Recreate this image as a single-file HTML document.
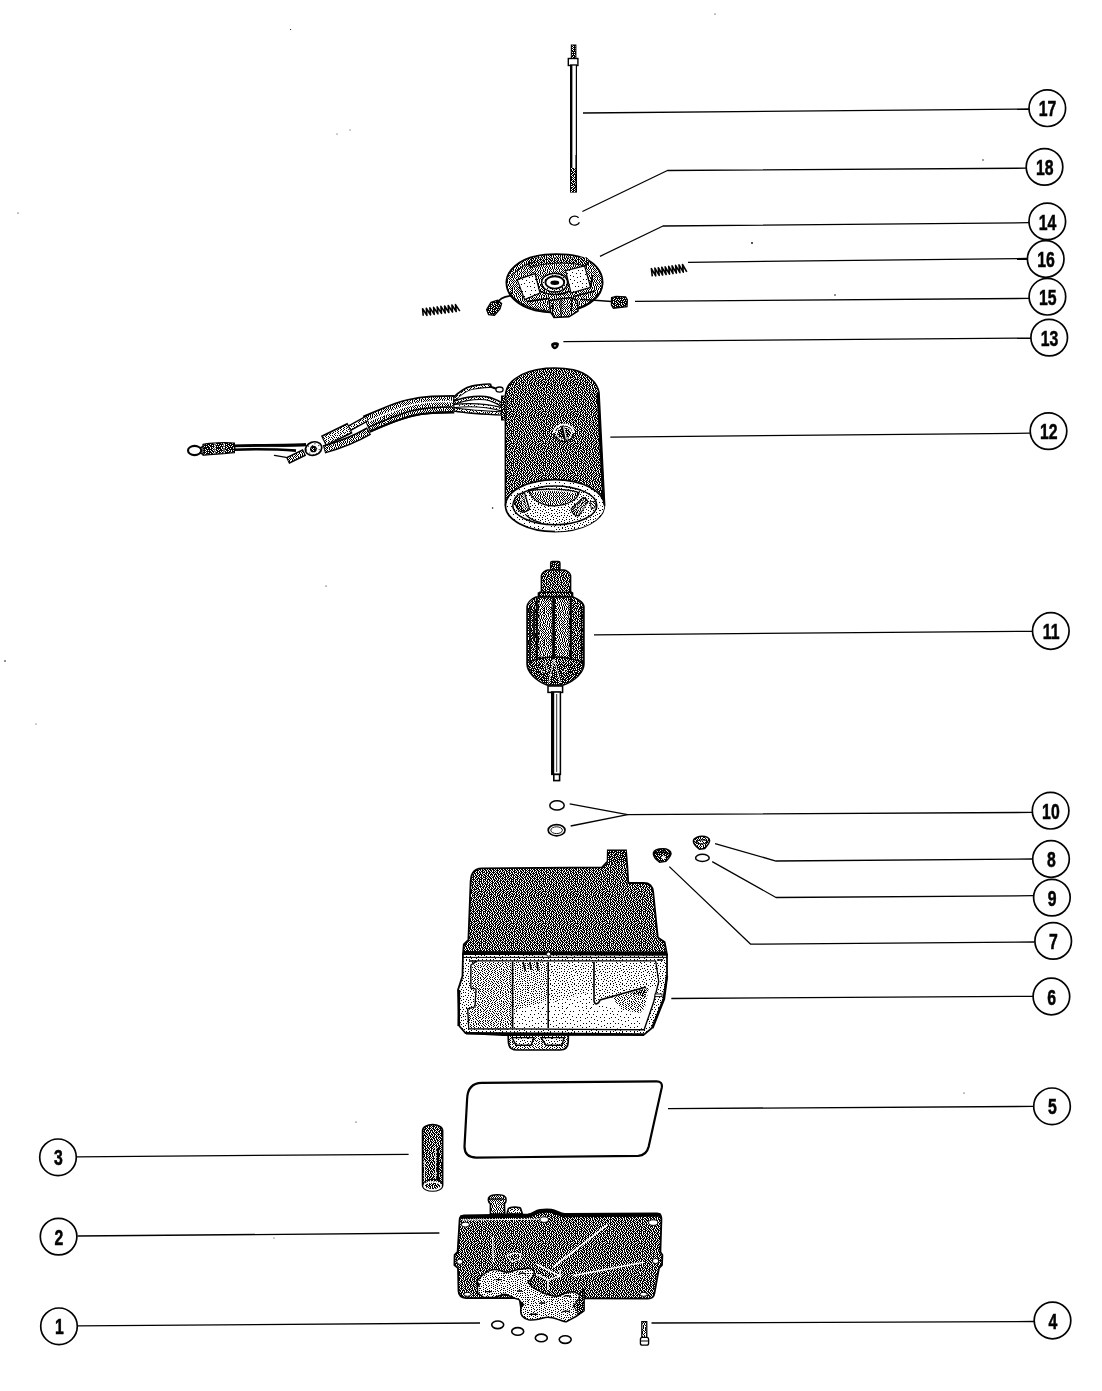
<!DOCTYPE html><html><head><meta charset="utf-8"><title>Parts diagram</title><style>html,body{margin:0;padding:0;background:#fff;overflow:hidden}svg{display:block}</style></head><body><svg width="1102" height="1391" viewBox="0 0 1102 1391" shape-rendering="geometricPrecision"><defs><pattern id="d70" width="32" height="32" patternUnits="userSpaceOnUse"><rect width="32" height="32" fill="#000"/><path fill="#fff" d="M2 0h1v1h-1zM6 0h1v1h-1zM9 0h1v1h-1zM15 0h1v1h-1zM18 0h1v1h-1zM21 0h1v1h-1zM23 0h1v1h-1zM29 0h1v1h-1zM4 1h1v1h-1zM11 1h1v1h-1zM13 1h1v1h-1zM20 1h1v1h-1zM25 1h1v1h-1zM27 1h1v1h-1zM30 1h1v1h-1zM1 2h1v1h-1zM5 2h1v1h-1zM7 2h1v1h-1zM9 2h1v1h-1zM14 2h1v1h-1zM16 2h1v1h-1zM18 2h1v1h-1zM21 2h1v1h-1zM23 2h1v1h-1zM26 2h1v1h-1zM2 3h1v1h-1zM4 3h1v1h-1zM7 3h1v1h-1zM11 3h1v1h-1zM13 3h1v1h-1zM19 3h1v1h-1zM24 3h1v1h-1zM28 3h1v1h-1zM30 3h1v1h-1zM0 4h1v1h-1zM6 4h1v1h-1zM9 4h1v1h-1zM14 4h1v1h-1zM16 4h1v1h-1zM20 4h1v1h-1zM22 4h1v1h-1zM26 4h1v1h-1zM29 4h1v1h-1zM1 5h1v1h-1zM3 5h1v1h-1zM5 5h1v1h-1zM11 5h1v1h-1zM13 5h1v1h-1zM18 5h1v1h-1zM21 5h1v1h-1zM25 5h1v1h-1zM28 5h1v1h-1zM6 6h1v1h-1zM8 6h1v1h-1zM12 6h1v1h-1zM15 6h1v1h-1zM17 6h1v1h-1zM20 6h1v1h-1zM23 6h1v1h-1zM27 6h1v1h-1zM30 6h1v1h-1zM1 7h1v1h-1zM3 7h1v1h-1zM5 7h1v1h-1zM10 7h1v1h-1zM14 7h1v1h-1zM22 7h1v1h-1zM26 7h1v1h-1zM31 7h1v1h-1zM6 8h1v1h-1zM8 8h1v1h-1zM11 8h1v1h-1zM15 8h1v1h-1zM17 8h1v1h-1zM19 8h1v1h-1zM23 8h1v1h-1zM25 8h1v1h-1zM28 8h1v1h-1zM1 9h1v1h-1zM3 9h1v1h-1zM5 9h1v1h-1zM9 9h1v1h-1zM12 9h1v1h-1zM14 9h1v1h-1zM20 9h1v1h-1zM22 9h1v1h-1zM29 9h1v1h-1zM31 9h1v1h-1zM6 10h1v1h-1zM15 10h1v1h-1zM17 10h1v1h-1zM24 10h1v1h-1zM26 10h1v1h-1zM1 11h1v1h-1zM3 11h1v1h-1zM5 11h1v1h-1zM8 11h1v1h-1zM10 11h1v1h-1zM12 11h1v1h-1zM14 11h1v1h-1zM19 11h1v1h-1zM21 11h1v1h-1zM23 11h1v1h-1zM27 11h1v1h-1zM29 11h1v1h-1zM31 11h1v1h-1zM0 12h1v1h-1zM7 12h1v1h-1zM11 12h1v1h-1zM16 12h1v1h-1zM18 12h1v1h-1zM24 12h1v1h-1zM30 12h1v1h-1zM3 13h1v1h-1zM5 13h1v1h-1zM9 13h1v1h-1zM13 13h1v1h-1zM15 13h1v1h-1zM19 13h1v1h-1zM21 13h1v1h-1zM23 13h1v1h-1zM26 13h1v1h-1zM28 13h1v1h-1zM1 14h1v1h-1zM5 14h1v1h-1zM7 14h1v1h-1zM10 14h1v1h-1zM17 14h1v1h-1zM25 14h1v1h-1zM29 14h1v1h-1zM31 14h1v1h-1zM0 15h1v1h-1zM3 15h1v1h-1zM8 15h1v1h-1zM11 15h1v1h-1zM13 15h1v1h-1zM15 15h1v1h-1zM19 15h1v1h-1zM21 15h1v1h-1zM23 15h1v1h-1zM26 15h1v1h-1zM28 15h1v1h-1zM1 16h1v1h-1zM4 16h1v1h-1zM7 16h1v1h-1zM13 16h1v1h-1zM16 16h1v1h-1zM20 16h1v1h-1zM24 16h1v1h-1zM29 16h1v1h-1zM31 16h1v1h-1zM2 17h1v1h-1zM5 17h1v1h-1zM9 17h1v1h-1zM11 17h1v1h-1zM14 17h1v1h-1zM18 17h1v1h-1zM22 17h1v1h-1zM25 17h1v1h-1zM28 17h1v1h-1zM4 18h1v1h-1zM7 18h1v1h-1zM12 18h1v1h-1zM16 18h1v1h-1zM20 18h1v1h-1zM26 18h1v1h-1zM29 18h1v1h-1zM31 18h1v1h-1zM0 19h1v1h-1zM2 19h1v1h-1zM5 19h1v1h-1zM9 19h1v1h-1zM11 19h1v1h-1zM14 19h1v1h-1zM17 19h1v1h-1zM19 19h1v1h-1zM22 19h1v1h-1zM24 19h1v1h-1zM27 19h1v1h-1zM7 20h1v1h-1zM13 20h1v1h-1zM21 20h1v1h-1zM25 20h1v1h-1zM28 20h1v1h-1zM30 20h1v1h-1zM2 21h1v1h-1zM4 21h1v1h-1zM6 21h1v1h-1zM9 21h1v1h-1zM11 21h1v1h-1zM16 21h1v1h-1zM18 21h1v1h-1zM20 21h1v1h-1zM23 21h1v1h-1zM26 21h1v1h-1zM1 22h1v1h-1zM5 22h1v1h-1zM11 22h1v1h-1zM13 22h1v1h-1zM15 22h1v1h-1zM22 22h1v1h-1zM25 22h1v1h-1zM28 22h1v1h-1zM30 22h1v1h-1zM2 23h1v1h-1zM4 23h1v1h-1zM8 23h1v1h-1zM10 23h1v1h-1zM16 23h1v1h-1zM18 23h1v1h-1zM20 23h1v1h-1zM23 23h1v1h-1zM27 23h1v1h-1zM31 23h1v1h-1zM0 24h1v1h-1zM5 24h1v1h-1zM7 24h1v1h-1zM11 24h1v1h-1zM13 24h1v1h-1zM19 24h1v1h-1zM22 24h1v1h-1zM25 24h1v1h-1zM29 24h1v1h-1zM3 25h1v1h-1zM9 25h1v1h-1zM15 25h1v1h-1zM17 25h1v1h-1zM21 25h1v1h-1zM28 25h1v1h-1zM31 25h1v1h-1zM0 26h1v1h-1zM2 26h1v1h-1zM5 26h1v1h-1zM7 26h1v1h-1zM10 26h1v1h-1zM12 26h1v1h-1zM14 26h1v1h-1zM18 26h1v1h-1zM23 26h1v1h-1zM25 26h1v1h-1zM27 26h1v1h-1zM4 27h1v1h-1zM8 27h1v1h-1zM16 27h1v1h-1zM19 27h1v1h-1zM21 27h1v1h-1zM23 27h1v1h-1zM29 27h1v1h-1zM31 27h1v1h-1zM0 28h1v1h-1zM2 28h1v1h-1zM6 28h1v1h-1zM10 28h1v1h-1zM12 28h1v1h-1zM14 28h1v1h-1zM18 28h1v1h-1zM24 28h1v1h-1zM26 28h1v1h-1zM0 29h1v1h-1zM4 29h1v1h-1zM8 29h1v1h-1zM11 29h1v1h-1zM16 29h1v1h-1zM20 29h1v1h-1zM22 29h1v1h-1zM28 29h1v1h-1zM30 29h1v1h-1zM2 30h1v1h-1zM5 30h1v1h-1zM7 30h1v1h-1zM12 30h1v1h-1zM14 30h1v1h-1zM17 30h1v1h-1zM23 30h1v1h-1zM25 30h1v1h-1zM27 30h1v1h-1zM0 31h1v1h-1zM3 31h1v1h-1zM9 31h1v1h-1zM11 31h1v1h-1zM18 31h1v1h-1zM20 31h1v1h-1zM22 31h1v1h-1zM29 31h1v1h-1zM31 31h1v1h-1z"/></pattern><pattern id="d60" width="32" height="32" patternUnits="userSpaceOnUse"><rect width="32" height="32" fill="#000"/><path fill="#fff" d="M2 0h1v1h-1zM6 0h1v1h-1zM9 0h1v1h-1zM12 0h1v1h-1zM15 0h1v1h-1zM18 0h1v1h-1zM20 0h1v1h-1zM23 0h1v1h-1zM25 0h1v1h-1zM27 0h1v1h-1zM29 0h1v1h-1zM1 1h1v1h-1zM4 1h2v1h-2zM8 1h1v1h-1zM11 1h1v1h-1zM14 1h1v1h-1zM17 1h1v1h-1zM21 1h1v1h-1zM24 1h1v1h-1zM28 1h1v1h-1zM31 1h1v1h-1zM1 2h1v1h-1zM3 2h1v1h-1zM6 2h1v1h-1zM9 2h1v1h-1zM12 2h1v1h-1zM15 2h1v1h-1zM17 2h1v1h-1zM19 2h1v1h-1zM22 2h1v1h-1zM25 2h1v1h-1zM27 2h1v1h-1zM29 2h1v1h-1zM31 2h1v1h-1zM0 3h1v1h-1zM4 3h1v1h-1zM7 3h1v1h-1zM9 3h1v1h-1zM11 3h1v1h-1zM13 3h1v1h-1zM15 3h1v1h-1zM17 3h1v1h-1zM20 3h1v1h-1zM22 3h1v1h-1zM24 3h1v1h-1zM26 3h1v1h-1zM30 3h1v1h-1zM1 4h1v1h-1zM3 4h1v1h-1zM5 4h1v1h-1zM9 4h1v1h-1zM12 4h1v1h-1zM15 4h1v1h-1zM18 4h1v1h-1zM21 4h1v1h-1zM24 4h1v1h-1zM27 4h1v1h-1zM29 4h1v1h-1zM1 5h1v1h-1zM3 5h1v1h-1zM6 5h1v1h-1zM8 5h1v1h-1zM11 5h1v1h-1zM14 5h1v1h-1zM16 5h1v1h-1zM18 5h1v1h-1zM20 5h1v1h-1zM23 5h1v1h-1zM26 5h1v1h-1zM28 5h1v1h-1zM30 5h1v1h-1zM1 6h1v1h-1zM4 6h1v1h-1zM7 6h1v1h-1zM9 6h1v1h-1zM12 6h1v1h-1zM15 6h1v1h-1zM19 6h1v1h-1zM21 6h1v1h-1zM24 6h1v1h-1zM27 6h1v1h-1zM31 6h1v1h-1zM0 7h1v1h-1zM3 7h1v1h-1zM5 7h1v1h-1zM7 7h1v1h-1zM10 7h1v1h-1zM12 7h1v1h-1zM14 7h1v1h-1zM16 7h1v1h-1zM18 7h1v1h-1zM21 7h1v1h-1zM23 7h1v1h-1zM25 7h1v1h-1zM28 7h1v1h-1zM30 7h1v1h-1zM1 8h1v1h-1zM5 8h1v1h-1zM8 8h1v1h-1zM11 8h1v1h-1zM15 8h1v1h-1zM18 8h1v1h-1zM20 8h1v1h-1zM22 8h1v1h-1zM25 8h1v1h-1zM27 8h1v1h-1zM30 8h1v1h-1zM1 9h1v1h-1zM3 9h2v1h-2zM7 9h1v1h-1zM10 9h1v1h-1zM12 9h1v1h-1zM14 9h1v1h-1zM16 9h1v1h-1zM19 9h1v1h-1zM23 9h1v1h-1zM25 9h1v1h-1zM28 9h1v1h-1zM31 9h1v1h-1zM2 10h1v1h-1zM5 10h1v1h-1zM7 10h1v1h-1zM9 10h1v1h-1zM13 10h1v1h-1zM17 10h1v1h-1zM20 10h1v1h-1zM22 10h1v1h-1zM26 10h1v1h-1zM28 10h1v1h-1zM30 10h1v1h-1zM0 11h1v1h-1zM3 11h1v1h-1zM6 11h1v1h-1zM9 11h1v1h-1zM11 11h1v1h-1zM13 11h1v1h-1zM15 11h1v1h-1zM17 11h1v1h-1zM19 11h1v1h-1zM21 11h1v1h-1zM24 11h1v1h-1zM26 11h1v1h-1zM29 11h1v1h-1zM0 12h1v1h-1zM2 12h1v1h-1zM4 12h1v1h-1zM7 12h1v1h-1zM10 12h1v1h-1zM12 12h1v1h-1zM15 12h1v1h-1zM18 12h1v1h-1zM22 12h1v1h-1zM24 12h1v1h-1zM27 12h1v1h-1zM30 12h1v1h-1zM2 13h1v1h-1zM6 13h1v1h-1zM8 13h1v1h-1zM11 13h1v1h-1zM14 13h1v1h-1zM16 13h1v1h-1zM19 13h1v1h-1zM21 13h1v1h-1zM23 13h1v1h-1zM26 13h1v1h-1zM29 13h1v1h-1zM31 13h1v1h-1zM0 14h1v1h-1zM3 14h2v1h-2zM7 14h1v1h-1zM9 14h1v1h-1zM12 14h1v1h-1zM14 14h1v1h-1zM17 14h1v1h-1zM20 14h1v1h-1zM24 14h1v1h-1zM26 14h1v1h-1zM28 14h1v1h-1zM2 15h1v1h-1zM6 15h1v1h-1zM10 15h1v1h-1zM12 15h1v1h-1zM15 15h1v1h-1zM17 15h1v1h-1zM19 15h1v1h-1zM21 15h1v1h-1zM23 15h1v1h-1zM27 15h1v1h-1zM30 15h1v1h-1zM0 16h1v1h-1zM2 16h1v1h-1zM4 16h1v1h-1zM6 16h1v1h-1zM8 16h1v1h-1zM11 16h1v1h-1zM13 16h1v1h-1zM16 16h1v1h-1zM19 16h1v1h-1zM22 16h1v1h-1zM24 16h1v1h-1zM26 16h1v1h-1zM28 16h1v1h-1zM30 16h1v1h-1zM2 17h1v1h-1zM5 17h1v1h-1zM8 17h1v1h-1zM10 17h1v1h-1zM13 17h1v1h-1zM15 17h1v1h-1zM18 17h1v1h-1zM21 17h1v1h-1zM25 17h1v1h-1zM29 17h1v1h-1zM0 18h1v1h-1zM2 18h1v1h-1zM4 18h1v1h-1zM6 18h1v1h-1zM9 18h1v1h-1zM11 18h1v1h-1zM14 18h1v1h-1zM16 18h1v1h-1zM19 18h1v1h-1zM21 18h1v1h-1zM23 18h1v1h-1zM26 18h1v1h-1zM28 18h1v1h-1zM30 18h1v1h-1zM0 19h1v1h-1zM3 19h1v1h-1zM6 19h1v1h-1zM8 19h1v1h-1zM10 19h1v1h-1zM13 19h1v1h-1zM17 19h1v1h-1zM19 19h1v1h-1zM22 19h1v1h-1zM24 19h1v1h-1zM26 19h1v1h-1zM29 19h1v1h-1zM1 20h1v1h-1zM4 20h1v1h-1zM8 20h1v1h-1zM11 20h1v1h-1zM13 20h1v1h-1zM15 20h1v1h-1zM17 20h1v1h-1zM20 20h1v1h-1zM23 20h1v1h-1zM26 20h1v1h-1zM28 20h1v1h-1zM30 20h1v1h-1zM1 21h1v1h-1zM3 21h1v1h-1zM5 21h1v1h-1zM7 21h1v1h-1zM10 21h1v1h-1zM13 21h1v1h-1zM16 21h1v1h-1zM18 21h1v1h-1zM20 21h1v1h-1zM22 21h1v1h-1zM25 21h1v1h-1zM27 21h1v1h-1zM31 21h1v1h-1zM2 22h1v1h-1zM5 22h1v1h-1zM8 22h1v1h-1zM11 22h1v1h-1zM14 22h1v1h-1zM17 22h1v1h-1zM21 22h1v1h-1zM23 22h1v1h-1zM25 22h1v1h-1zM28 22h1v1h-1zM30 22h1v1h-1zM1 23h1v1h-1zM4 23h1v1h-1zM7 23h1v1h-1zM10 23h1v1h-1zM12 23h1v1h-1zM14 23h1v1h-1zM16 23h1v1h-1zM18 23h1v1h-1zM20 23h1v1h-1zM23 23h1v1h-1zM26 23h1v1h-1zM29 23h1v1h-1zM31 23h1v1h-1zM0 24h1v1h-1zM2 24h1v1h-1zM4 24h1v1h-1zM6 24h1v1h-1zM8 24h1v1h-1zM10 24h1v1h-1zM13 24h1v1h-1zM16 24h1v1h-1zM19 24h1v1h-1zM21 24h1v1h-1zM23 24h1v1h-1zM25 24h1v1h-1zM27 24h1v1h-1zM31 24h1v1h-1zM0 25h1v1h-1zM3 25h1v1h-1zM6 25h1v1h-1zM9 25h1v1h-1zM12 25h1v1h-1zM15 25h1v1h-1zM18 25h1v1h-1zM21 25h1v1h-1zM24 25h1v1h-1zM29 25h1v1h-1zM0 26h1v1h-1zM2 26h1v1h-1zM4 26h1v1h-1zM7 26h1v1h-1zM10 26h1v1h-1zM12 26h1v1h-1zM14 26h1v1h-1zM17 26h1v1h-1zM19 26h1v1h-1zM22 26h1v1h-1zM25 26h1v1h-1zM27 26h2v1h-2zM30 26h1v1h-1zM3 27h1v1h-1zM6 27h1v1h-1zM8 27h1v1h-1zM10 27h1v1h-1zM13 27h1v1h-1zM16 27h1v1h-1zM18 27h1v1h-1zM21 27h1v1h-1zM24 27h1v1h-1zM26 27h1v1h-1zM29 27h1v1h-1zM0 28h1v1h-1zM2 28h1v1h-1zM5 28h1v1h-1zM8 28h1v1h-1zM11 28h1v1h-1zM14 28h1v1h-1zM17 28h1v1h-1zM20 28h1v1h-1zM22 28h1v1h-1zM25 28h1v1h-1zM28 28h1v1h-1zM31 28h1v1h-1zM1 29h1v1h-1zM3 29h1v1h-1zM5 29h1v1h-1zM7 29h1v1h-1zM10 29h1v1h-1zM12 29h1v1h-1zM14 29h1v1h-1zM16 29h1v1h-1zM19 29h1v1h-1zM21 29h1v1h-1zM24 29h1v1h-1zM27 29h1v1h-1zM30 29h1v1h-1zM3 30h1v1h-1zM6 30h1v1h-1zM8 30h1v1h-1zM13 30h1v1h-1zM16 30h1v1h-1zM18 30h1v1h-1zM21 30h1v1h-1zM23 30h1v1h-1zM25 30h1v1h-1zM28 30h1v1h-1zM31 30h1v1h-1zM0 31h1v1h-1zM2 31h1v1h-1zM5 31h1v1h-1zM8 31h1v1h-1zM10 31h1v1h-1zM12 31h1v1h-1zM14 31h1v1h-1zM16 31h1v1h-1zM20 31h1v1h-1zM23 31h1v1h-1zM27 31h1v1h-1zM30 31h1v1h-1z"/></pattern><pattern id="d45" width="32" height="32" patternUnits="userSpaceOnUse"><rect width="32" height="32" fill="#fff"/><path fill="#000" d="M0 0h1v1h-1zM2 0h1v1h-1zM5 0h1v1h-1zM7 0h1v1h-1zM9 0h1v1h-1zM12 0h1v1h-1zM14 0h1v1h-1zM16 0h1v1h-1zM18 0h1v1h-1zM20 0h1v1h-1zM22 0h1v1h-1zM24 0h1v1h-1zM26 0h1v1h-1zM29 0h1v1h-1zM31 0h1v1h-1zM0 1h1v1h-1zM2 1h1v1h-1zM4 1h1v1h-1zM6 1h1v1h-1zM9 1h1v1h-1zM11 1h1v1h-1zM13 1h1v1h-1zM15 1h1v1h-1zM18 1h1v1h-1zM20 1h1v1h-1zM22 1h1v1h-1zM24 1h1v1h-1zM26 1h1v1h-1zM28 1h1v1h-1zM30 1h1v1h-1zM0 2h1v1h-1zM3 2h1v1h-1zM5 2h1v1h-1zM7 2h1v1h-1zM10 2h1v1h-1zM12 2h1v1h-1zM15 2h1v1h-1zM17 2h1v1h-1zM19 2h1v1h-1zM21 2h1v1h-1zM24 2h1v1h-1zM26 2h1v1h-1zM28 2h1v1h-1zM31 2h1v1h-1zM0 3h1v1h-1zM2 3h1v1h-1zM4 3h1v1h-1zM6 3h1v1h-1zM8 3h1v1h-1zM10 3h1v1h-1zM12 3h1v1h-1zM14 3h1v1h-1zM16 3h1v1h-1zM18 3h1v1h-1zM21 3h1v1h-1zM23 3h1v1h-1zM25 3h1v1h-1zM28 3h1v1h-1zM30 3h1v1h-1zM0 4h1v1h-1zM2 4h1v1h-1zM5 4h1v1h-1zM7 4h1v1h-1zM9 4h1v1h-1zM11 4h1v1h-1zM13 4h1v1h-1zM15 4h1v1h-1zM17 4h1v1h-1zM19 4h1v1h-1zM21 4h1v1h-1zM23 4h1v1h-1zM25 4h1v1h-1zM27 4h1v1h-1zM29 4h1v1h-1zM31 4h1v1h-1zM0 5h1v1h-1zM3 5h2v1h-2zM6 5h1v1h-1zM8 5h1v1h-1zM11 5h1v1h-1zM14 5h1v1h-1zM16 5h1v1h-1zM19 5h1v1h-1zM21 5h1v1h-1zM23 5h1v1h-1zM26 5h1v1h-1zM28 5h1v1h-1zM31 5h1v1h-1zM1 6h1v1h-1zM4 6h1v1h-1zM6 6h1v1h-1zM8 6h1v1h-1zM10 6h1v1h-1zM12 6h1v1h-1zM14 6h1v1h-1zM16 6h1v1h-1zM18 6h1v1h-1zM20 6h1v1h-1zM22 6h1v1h-1zM24 6h1v1h-1zM26 6h1v1h-1zM28 6h1v1h-1zM30 6h1v1h-1zM0 7h1v1h-1zM2 7h1v1h-1zM4 7h1v1h-1zM7 7h1v1h-1zM9 7h1v1h-1zM12 7h1v1h-1zM14 7h1v1h-1zM16 7h1v1h-1zM19 7h1v1h-1zM21 7h1v1h-1zM23 7h1v1h-1zM25 7h1v1h-1zM27 7h1v1h-1zM29 7h1v1h-1zM31 7h1v1h-1zM0 8h1v1h-1zM2 8h1v1h-1zM4 8h1v1h-1zM6 8h1v1h-1zM8 8h1v1h-1zM10 8h1v1h-1zM12 8h1v1h-1zM15 8h1v1h-1zM17 8h1v1h-1zM20 8h1v1h-1zM24 8h1v1h-1zM27 8h1v1h-1zM29 8h1v1h-1zM2 9h1v1h-1zM5 9h1v1h-1zM7 9h1v1h-1zM10 9h1v1h-1zM12 9h1v1h-1zM14 9h1v1h-1zM16 9h1v1h-1zM18 9h1v1h-1zM20 9h1v1h-1zM22 9h1v1h-1zM24 9h1v1h-1zM26 9h1v1h-1zM29 9h1v1h-1zM31 9h1v1h-1zM1 10h1v1h-1zM3 10h1v1h-1zM5 10h1v1h-1zM8 10h1v1h-1zM10 10h1v1h-1zM13 10h1v1h-1zM15 10h1v1h-1zM17 10h1v1h-1zM19 10h1v1h-1zM21 10h1v1h-1zM23 10h1v1h-1zM25 10h1v1h-1zM27 10h1v1h-1zM29 10h1v1h-1zM31 10h1v1h-1zM0 11h1v1h-1zM2 11h1v1h-1zM4 11h1v1h-1zM6 11h1v1h-1zM8 11h1v1h-1zM10 11h1v1h-1zM12 11h1v1h-1zM14 11h1v1h-1zM17 11h1v1h-1zM20 11h1v1h-1zM22 11h1v1h-1zM24 11h1v1h-1zM26 11h1v1h-1zM28 11h1v1h-1zM30 11h1v1h-1zM1 12h1v1h-1zM4 12h1v1h-1zM6 12h1v1h-1zM8 12h1v1h-1zM10 12h1v1h-1zM12 12h1v1h-1zM14 12h1v1h-1zM16 12h1v1h-1zM18 12h1v1h-1zM20 12h1v1h-1zM23 12h1v1h-1zM26 12h1v1h-1zM28 12h1v1h-1zM30 12h1v1h-1zM1 13h1v1h-1zM3 13h1v1h-1zM5 13h1v1h-1zM7 13h1v1h-1zM9 13h1v1h-1zM11 13h1v1h-1zM13 13h1v1h-1zM15 13h1v1h-1zM17 13h1v1h-1zM19 13h1v1h-1zM21 13h1v1h-1zM23 13h1v1h-1zM25 13h1v1h-1zM28 13h1v1h-1zM31 13h1v1h-1zM1 14h1v1h-1zM3 14h1v1h-1zM6 14h1v1h-1zM9 14h1v1h-1zM12 14h1v1h-1zM15 14h1v1h-1zM18 14h1v1h-1zM20 14h1v1h-1zM23 14h1v1h-1zM25 14h1v1h-1zM27 14h1v1h-1zM29 14h1v1h-1zM31 14h1v1h-1zM0 15h1v1h-1zM3 15h1v1h-1zM5 15h1v1h-1zM7 15h1v1h-1zM9 15h1v1h-1zM11 15h1v1h-1zM13 15h1v1h-1zM15 15h1v1h-1zM17 15h1v1h-1zM19 15h1v1h-1zM22 15h1v1h-1zM24 15h1v1h-1zM26 15h1v1h-1zM28 15h1v1h-1zM31 15h1v1h-1zM1 16h1v1h-1zM3 16h1v1h-1zM5 16h1v1h-1zM8 16h1v1h-1zM10 16h1v1h-1zM12 16h1v1h-1zM14 16h1v1h-1zM16 16h1v1h-1zM18 16h1v1h-1zM20 16h2v1h-2zM23 16h1v1h-1zM26 16h1v1h-1zM28 16h1v1h-1zM30 16h1v1h-1zM0 17h1v1h-1zM2 17h1v1h-1zM5 17h1v1h-1zM7 17h1v1h-1zM9 17h1v1h-1zM11 17h1v1h-1zM13 17h1v1h-1zM15 17h1v1h-1zM17 17h1v1h-1zM19 17h1v1h-1zM23 17h1v1h-1zM25 17h1v1h-1zM28 17h1v1h-1zM30 17h1v1h-1zM1 18h1v1h-1zM3 18h1v1h-1zM5 18h1v1h-1zM7 18h1v1h-1zM9 18h1v1h-1zM12 18h1v1h-1zM15 18h1v1h-1zM18 18h1v1h-1zM20 18h1v1h-1zM22 18h1v1h-1zM24 18h1v1h-1zM26 18h1v1h-1zM28 18h1v1h-1zM31 18h1v1h-1zM2 19h1v1h-1zM4 19h1v1h-1zM6 19h1v1h-1zM9 19h1v1h-1zM11 19h1v1h-1zM13 19h1v1h-1zM15 19h1v1h-1zM17 19h1v1h-1zM19 19h1v1h-1zM21 19h1v1h-1zM23 19h1v1h-1zM25 19h1v1h-1zM27 19h1v1h-1zM29 19h1v1h-1zM31 19h1v1h-1zM0 20h1v1h-1zM2 20h1v1h-1zM5 20h1v1h-1zM7 20h1v1h-1zM9 20h1v1h-1zM11 20h1v1h-1zM13 20h1v1h-1zM16 20h1v1h-1zM18 20h1v1h-1zM20 20h1v1h-1zM22 20h1v1h-1zM24 20h1v1h-1zM26 20h1v1h-1zM28 20h1v1h-1zM30 20h1v1h-1zM0 21h1v1h-1zM2 21h1v1h-1zM4 21h1v1h-1zM6 21h1v1h-1zM8 21h1v1h-1zM10 21h1v1h-1zM12 21h1v1h-1zM14 21h1v1h-1zM16 21h1v1h-1zM19 21h1v1h-1zM21 21h1v1h-1zM23 21h1v1h-1zM26 21h1v1h-1zM29 21h1v1h-1zM31 21h1v1h-1zM1 22h1v1h-1zM3 22h1v1h-1zM6 22h1v1h-1zM9 22h1v1h-1zM12 22h1v1h-1zM14 22h1v1h-1zM16 22h1v1h-1zM18 22h1v1h-1zM21 22h1v1h-1zM24 22h1v1h-1zM26 22h1v1h-1zM28 22h1v1h-1zM30 22h1v1h-1zM1 23h1v1h-1zM4 23h1v1h-1zM6 23h1v1h-1zM8 23h1v1h-1zM10 23h1v1h-1zM12 23h1v1h-1zM15 23h1v1h-1zM17 23h1v1h-1zM19 23h1v1h-1zM21 23h1v1h-1zM23 23h1v1h-1zM25 23h1v1h-1zM27 23h1v1h-1zM29 23h1v1h-1zM31 23h1v1h-1zM0 24h1v1h-1zM2 24h1v1h-1zM4 24h1v1h-1zM6 24h1v1h-1zM8 24h1v1h-1zM11 24h1v1h-1zM13 24h1v1h-1zM16 24h1v1h-1zM18 24h1v1h-1zM20 24h1v1h-1zM22 24h1v1h-1zM24 24h1v1h-1zM27 24h1v1h-1zM30 24h1v1h-1zM1 25h1v1h-1zM3 25h1v1h-1zM5 25h1v1h-1zM7 25h1v1h-1zM9 25h1v1h-1zM11 25h1v1h-1zM14 25h1v1h-1zM16 25h1v1h-1zM18 25h1v1h-1zM20 25h1v1h-1zM23 25h1v1h-1zM25 25h1v1h-1zM27 25h1v1h-1zM29 25h1v1h-1zM31 25h1v1h-1zM0 26h1v1h-1zM2 26h1v1h-1zM4 26h1v1h-1zM7 26h1v1h-1zM9 26h1v1h-1zM11 26h1v1h-1zM13 26h1v1h-1zM15 26h1v1h-1zM17 26h1v1h-1zM19 26h1v1h-1zM21 26h1v1h-1zM23 26h1v1h-1zM25 26h1v1h-1zM27 26h1v1h-1zM29 26h1v1h-1zM1 27h1v1h-1zM4 27h1v1h-1zM6 27h1v1h-1zM8 27h1v1h-1zM10 27h1v1h-1zM12 27h1v1h-1zM14 27h1v1h-1zM17 27h1v1h-1zM20 27h1v1h-1zM22 27h1v1h-1zM24 27h1v1h-1zM26 27h1v1h-1zM29 27h1v1h-1zM31 27h1v1h-1zM1 28h1v1h-1zM3 28h1v1h-1zM5 28h1v1h-1zM7 28h1v1h-1zM10 28h1v1h-1zM13 28h1v1h-1zM15 28h1v1h-1zM17 28h1v1h-1zM19 28h1v1h-1zM21 28h1v1h-1zM23 28h1v1h-1zM26 28h1v1h-1zM28 28h1v1h-1zM30 28h1v1h-1zM0 29h1v1h-1zM2 29h1v1h-1zM4 29h1v1h-1zM7 29h1v1h-1zM9 29h1v1h-1zM11 29h1v1h-1zM13 29h1v1h-1zM15 29h1v1h-1zM17 29h1v1h-1zM19 29h1v1h-1zM21 29h1v1h-1zM24 29h1v1h-1zM26 29h1v1h-1zM28 29h1v1h-1zM30 29h1v1h-1zM1 30h1v1h-1zM3 30h1v1h-1zM5 30h1v1h-1zM8 30h1v1h-1zM10 30h1v1h-1zM12 30h1v1h-1zM15 30h1v1h-1zM18 30h1v1h-1zM20 30h1v1h-1zM22 30h1v1h-1zM24 30h1v1h-1zM27 30h1v1h-1zM29 30h1v1h-1zM31 30h1v1h-1zM0 31h1v1h-1zM2 31h1v1h-1zM4 31h1v1h-1zM6 31h2v1h-2zM9 31h1v1h-1zM11 31h1v1h-1zM14 31h1v1h-1zM16 31h1v1h-1zM18 31h1v1h-1zM20 31h1v1h-1zM23 31h1v1h-1zM25 31h1v1h-1zM27 31h1v1h-1zM30 31h1v1h-1z"/></pattern><pattern id="d30" width="32" height="32" patternUnits="userSpaceOnUse"><rect width="32" height="32" fill="#fff"/><path fill="#000" d="M3 0h1v1h-1zM6 0h1v1h-1zM10 0h1v1h-1zM13 0h1v1h-1zM17 0h1v1h-1zM20 0h1v1h-1zM22 0h1v1h-1zM25 0h1v1h-1zM28 0h1v1h-1zM30 0h1v1h-1zM1 1h1v1h-1zM4 1h1v1h-1zM8 1h1v1h-1zM11 1h1v1h-1zM14 1h1v1h-1zM16 1h1v1h-1zM20 1h1v1h-1zM23 1h1v1h-1zM26 1h1v1h-1zM31 1h1v1h-1zM2 2h1v1h-1zM5 2h1v1h-1zM9 2h1v1h-1zM13 2h1v1h-1zM18 2h1v1h-1zM22 2h1v1h-1zM25 2h1v1h-1zM28 2h1v1h-1zM0 3h1v1h-1zM3 3h1v1h-1zM7 3h1v1h-1zM11 3h1v1h-1zM15 3h1v1h-1zM17 3h1v1h-1zM20 3h1v1h-1zM23 3h1v1h-1zM26 3h1v1h-1zM30 3h1v1h-1zM2 4h1v1h-1zM5 4h1v1h-1zM8 4h1v1h-1zM10 4h1v1h-1zM13 4h1v1h-1zM18 4h1v1h-1zM22 4h1v1h-1zM25 4h1v1h-1zM28 4h1v1h-1zM0 5h1v1h-1zM4 5h1v1h-1zM7 5h1v1h-1zM11 5h1v1h-1zM14 5h1v1h-1zM16 5h1v1h-1zM19 5h1v1h-1zM21 5h1v1h-1zM26 5h1v1h-1zM30 5h1v1h-1zM1 6h1v1h-1zM3 6h1v1h-1zM6 6h1v1h-1zM9 6h1v1h-1zM12 6h1v1h-1zM16 6h1v1h-1zM20 6h1v1h-1zM23 6h1v1h-1zM27 6h1v1h-1zM29 6h1v1h-1zM0 7h1v1h-1zM7 7h1v1h-1zM10 7h1v1h-1zM14 7h1v1h-1zM17 7h1v1h-1zM19 7h1v1h-1zM24 7h1v1h-1zM26 7h1v1h-1zM30 7h1v1h-1zM2 8h1v1h-1zM4 8h1v1h-1zM8 8h1v1h-1zM11 8h1v1h-1zM13 8h1v1h-1zM16 8h1v1h-1zM21 8h1v1h-1zM27 8h1v1h-1zM2 9h1v1h-1zM5 9h1v1h-1zM7 9h1v1h-1zM10 9h1v1h-1zM15 9h1v1h-1zM19 9h1v1h-1zM21 9h1v1h-1zM23 9h1v1h-1zM25 9h1v1h-1zM28 9h1v1h-1zM30 9h1v1h-1zM1 10h1v1h-1zM4 10h1v1h-1zM8 10h1v1h-1zM12 10h1v1h-1zM14 10h1v1h-1zM17 10h1v1h-1zM23 10h1v1h-1zM26 10h1v1h-1zM31 10h1v1h-1zM2 11h1v1h-1zM6 11h1v1h-1zM9 11h1v1h-1zM11 11h1v1h-1zM15 11h1v1h-1zM19 11h1v1h-1zM21 11h1v1h-1zM24 11h1v1h-1zM27 11h1v1h-1zM29 11h1v1h-1zM0 12h1v1h-1zM4 12h1v1h-1zM8 12h1v1h-1zM12 12h1v1h-1zM14 12h1v1h-1zM17 12h1v1h-1zM20 12h1v1h-1zM23 12h1v1h-1zM26 12h1v1h-1zM30 12h1v1h-1zM2 13h1v1h-1zM5 13h1v1h-1zM7 13h1v1h-1zM11 13h1v1h-1zM15 13h1v1h-1zM18 13h1v1h-1zM21 13h1v1h-1zM24 13h1v1h-1zM28 13h1v1h-1zM31 13h1v1h-1zM0 14h1v1h-1zM3 14h1v1h-1zM8 14h1v1h-1zM10 14h1v1h-1zM13 14h1v1h-1zM17 14h1v1h-1zM20 14h1v1h-1zM23 14h1v1h-1zM26 14h1v1h-1zM30 14h1v1h-1zM1 15h1v1h-1zM5 15h1v1h-1zM7 15h1v1h-1zM11 15h1v1h-1zM15 15h1v1h-1zM18 15h1v1h-1zM22 15h1v1h-1zM27 15h1v1h-1zM29 15h1v1h-1zM2 16h1v1h-1zM6 16h1v1h-1zM9 16h1v1h-1zM13 16h1v1h-1zM17 16h1v1h-1zM20 16h1v1h-1zM23 16h1v1h-1zM25 16h1v1h-1zM30 16h1v1h-1zM0 17h1v1h-1zM3 17h1v1h-1zM5 17h1v1h-1zM10 17h1v1h-1zM12 17h1v1h-1zM15 17h1v1h-1zM18 17h1v1h-1zM21 17h1v1h-1zM24 17h1v1h-1zM27 17h1v1h-1zM29 17h1v1h-1zM0 18h1v1h-1zM4 18h1v1h-1zM7 18h1v1h-1zM9 18h1v1h-1zM14 18h1v1h-1zM20 18h1v1h-1zM26 18h1v1h-1zM30 18h1v1h-1zM1 19h1v1h-1zM3 19h1v1h-1zM6 19h1v1h-1zM10 19h1v1h-1zM12 19h1v1h-1zM15 19h1v1h-1zM17 19h1v1h-1zM19 19h1v1h-1zM22 19h1v1h-1zM24 19h1v1h-1zM27 19h1v1h-1zM29 19h1v1h-1zM0 20h1v1h-1zM5 20h1v1h-1zM8 20h1v1h-1zM13 20h1v1h-1zM20 20h1v1h-1zM23 20h1v1h-1zM26 20h1v1h-1zM30 20h1v1h-1zM3 21h1v1h-1zM6 21h1v1h-1zM9 21h1v1h-1zM11 21h1v1h-1zM14 21h1v1h-1zM16 21h1v1h-1zM18 21h1v1h-1zM21 21h1v1h-1zM25 21h1v1h-1zM29 21h1v1h-1zM1 22h1v1h-1zM4 22h1v1h-1zM8 22h1v1h-1zM12 22h1v1h-1zM17 22h1v1h-1zM20 22h1v1h-1zM23 22h1v1h-1zM27 22h1v1h-1zM30 22h1v1h-1zM0 23h1v1h-1zM3 23h1v1h-1zM6 23h1v1h-1zM10 23h1v1h-1zM13 23h1v1h-1zM15 23h1v1h-1zM18 23h1v1h-1zM21 23h1v1h-1zM24 23h1v1h-1zM26 23h1v1h-1zM29 23h1v1h-1zM2 24h1v1h-1zM5 24h1v1h-1zM8 24h1v1h-1zM12 24h1v1h-1zM16 24h1v1h-1zM22 24h1v1h-1zM27 24h1v1h-1zM30 24h1v1h-1zM0 25h1v1h-1zM3 25h1v1h-1zM6 25h1v1h-1zM9 25h1v1h-1zM11 25h1v1h-1zM14 25h1v1h-1zM17 25h1v1h-1zM19 25h1v1h-1zM21 25h1v1h-1zM25 25h1v1h-1zM28 25h1v1h-1zM31 25h1v1h-1zM2 26h1v1h-1zM5 26h1v1h-1zM8 26h1v1h-1zM13 26h1v1h-1zM18 26h1v1h-1zM22 26h1v1h-1zM24 26h1v1h-1zM27 26h1v1h-1zM30 26h1v1h-1zM1 27h1v1h-1zM11 27h1v1h-1zM14 27h1v1h-1zM16 27h1v1h-1zM19 27h1v1h-1zM21 27h1v1h-1zM25 27h1v1h-1zM28 27h1v1h-1zM3 28h1v1h-1zM5 28h1v1h-1zM7 28h1v1h-1zM9 28h1v1h-1zM12 28h1v1h-1zM16 28h1v1h-1zM21 28h1v1h-1zM23 28h1v1h-1zM29 28h1v1h-1zM31 28h1v1h-1zM0 29h1v1h-1zM2 29h1v1h-1zM5 29h1v1h-1zM8 29h1v1h-1zM11 29h1v1h-1zM15 29h1v1h-1zM18 29h1v1h-1zM20 29h1v1h-1zM25 29h1v1h-1zM27 29h1v1h-1zM30 29h1v1h-1zM3 30h1v1h-1zM7 30h1v1h-1zM10 30h1v1h-1zM13 30h1v1h-1zM16 30h1v1h-1zM21 30h1v1h-1zM23 30h1v1h-1zM27 30h1v1h-1zM31 30h1v1h-1zM0 31h1v1h-1zM2 31h1v1h-1zM5 31h1v1h-1zM8 31h1v1h-1zM11 31h1v1h-1zM14 31h1v1h-1zM18 31h1v1h-1zM20 31h1v1h-1zM25 31h1v1h-1zM28 31h1v1h-1zM30 31h1v1h-1z"/></pattern><pattern id="d22" width="24" height="24" patternUnits="userSpaceOnUse"><rect width="24" height="24" fill="#fff"/><path fill="#000" d="M6 0h1v1h-1zM8 0h1v1h-1zM12 0h1v1h-1zM15 0h1v1h-1zM0 1h1v1h-1zM2 1h1v1h-1zM4 1h1v1h-1zM10 1h1v1h-1zM17 1h1v1h-1zM19 1h1v1h-1zM21 1h1v1h-1zM23 1h1v1h-1zM6 2h1v1h-1zM12 2h1v1h-1zM14 2h1v1h-1zM1 3h1v1h-1zM4 3h1v1h-1zM8 3h1v1h-1zM10 3h1v1h-1zM18 3h1v1h-1zM21 3h1v1h-1zM23 3h1v1h-1zM0 4h1v1h-1zM6 4h1v1h-1zM12 4h1v1h-1zM15 4h1v1h-1zM3 5h1v1h-1zM5 5h1v1h-1zM10 5h1v1h-1zM13 5h1v1h-1zM16 5h1v1h-1zM19 5h1v1h-1zM21 5h1v1h-1zM23 5h1v1h-1zM0 6h1v1h-1zM7 6h1v1h-1zM18 6h1v1h-1zM3 7h1v1h-1zM5 7h1v1h-1zM8 7h1v1h-1zM11 7h1v1h-1zM14 7h1v1h-1zM16 7h1v1h-1zM21 7h1v1h-1zM0 8h1v1h-1zM13 8h1v1h-1zM18 8h1v1h-1zM23 8h1v1h-1zM2 9h1v1h-1zM4 9h1v1h-1zM7 9h1v1h-1zM9 9h1v1h-1zM11 9h1v1h-1zM16 9h1v1h-1zM21 9h1v1h-1zM5 10h1v1h-1zM13 10h1v1h-1zM18 10h1v1h-1zM0 11h1v1h-1zM3 11h1v1h-1zM8 11h1v1h-1zM11 11h1v1h-1zM16 11h1v1h-1zM20 11h1v1h-1zM22 11h1v1h-1zM5 12h1v1h-1zM13 12h1v1h-1zM17 12h1v1h-1zM3 13h1v1h-1zM6 13h1v1h-1zM9 13h1v1h-1zM11 13h1v1h-1zM15 13h1v1h-1zM19 13h1v1h-1zM21 13h1v1h-1zM1 14h1v1h-1zM8 14h1v1h-1zM13 14h1v1h-1zM17 14h1v1h-1zM23 14h1v1h-1zM3 15h1v1h-1zM6 15h1v1h-1zM11 15h1v1h-1zM15 15h1v1h-1zM21 15h1v1h-1zM0 16h1v1h-1zM5 16h1v1h-1zM9 16h1v1h-1zM13 16h1v1h-1zM17 16h1v1h-1zM19 16h1v1h-1zM23 16h1v1h-1zM3 17h1v1h-1zM7 17h1v1h-1zM15 17h1v1h-1zM21 17h1v1h-1zM1 18h1v1h-1zM5 18h1v1h-1zM9 18h1v1h-1zM11 18h1v1h-1zM17 18h1v1h-1zM20 18h1v1h-1zM23 18h1v1h-1zM3 19h1v1h-1zM7 19h1v1h-1zM13 19h1v1h-1zM15 19h1v1h-1zM18 19h1v1h-1zM1 20h1v1h-1zM5 20h1v1h-1zM9 20h1v1h-1zM20 20h1v1h-1zM23 20h1v1h-1zM7 21h1v1h-1zM12 21h1v1h-1zM14 21h1v1h-1zM16 21h1v1h-1zM18 21h1v1h-1zM21 21h1v1h-1zM2 22h1v1h-1zM4 22h1v1h-1zM9 22h1v1h-1zM11 22h1v1h-1zM23 22h1v1h-1zM0 23h1v1h-1zM7 23h1v1h-1zM13 23h1v1h-1zM16 23h1v1h-1zM18 23h1v1h-1zM21 23h1v1h-1z"/></pattern><pattern id="d15" width="24" height="24" patternUnits="userSpaceOnUse"><rect width="24" height="24" fill="#fff"/><path fill="#000" d="M10 0h1v1h-1zM16 0h1v1h-1zM19 0h1v1h-1zM22 0h1v1h-1zM0 1h1v1h-1zM4 1h1v1h-1zM7 1h1v1h-1zM13 1h1v1h-1zM2 2h1v1h-1zM16 2h1v1h-1zM20 2h1v1h-1zM6 3h1v1h-1zM9 3h1v1h-1zM12 3h1v1h-1zM17 3h1v1h-1zM22 4h1v1h-1zM2 5h1v1h-1zM5 5h1v1h-1zM10 5h1v1h-1zM15 5h1v1h-1zM20 5h1v1h-1zM0 6h1v1h-1zM7 6h1v1h-1zM12 6h1v1h-1zM17 6h1v1h-1zM23 6h1v1h-1zM4 7h1v1h-1zM14 7h1v1h-1zM7 8h1v1h-1zM9 8h1v1h-1zM18 8h1v1h-1zM20 8h1v1h-1zM2 9h1v1h-1zM5 9h1v1h-1zM12 9h1v1h-1zM16 9h1v1h-1zM23 9h1v1h-1zM21 10h1v1h-1zM0 11h1v1h-1zM3 11h1v1h-1zM9 11h1v1h-1zM12 11h1v1h-1zM15 11h1v1h-1zM19 11h1v1h-1zM5 12h1v1h-1zM7 12h1v1h-1zM17 12h1v1h-1zM23 12h1v1h-1zM1 13h1v1h-1zM11 13h1v1h-1zM14 13h1v1h-1zM4 14h1v1h-1zM19 14h1v1h-1zM1 15h1v1h-1zM7 15h1v1h-1zM10 15h1v1h-1zM14 15h1v1h-1zM17 15h1v1h-1zM22 15h1v1h-1zM5 16h1v1h-1zM12 16h1v1h-1zM20 16h1v1h-1zM3 17h1v1h-1zM9 17h1v1h-1zM17 17h1v1h-1zM7 18h1v1h-1zM12 18h1v1h-1zM15 18h1v1h-1zM21 18h1v1h-1zM1 19h1v1h-1zM4 19h1v1h-1zM19 19h1v1h-1zM6 20h1v1h-1zM10 20h1v1h-1zM14 20h1v1h-1zM22 20h1v1h-1zM3 21h1v1h-1zM8 21h1v1h-1zM12 21h1v1h-1zM18 21h1v1h-1zM15 22h1v1h-1zM20 22h1v1h-1zM2 23h1v1h-1zM6 23h1v1h-1zM10 23h1v1h-1zM13 23h1v1h-1zM22 23h1v1h-1z"/></pattern><pattern id="d07" width="24" height="24" patternUnits="userSpaceOnUse"><rect width="24" height="24" fill="#fff"/><path fill="#000" d="M10 0h1v1h-1zM14 0h1v1h-1zM3 2h1v1h-1zM7 2h1v1h-1zM12 3h1v1h-1zM18 3h1v1h-1zM21 3h1v1h-1zM10 5h1v1h-1zM2 6h1v1h-1zM6 6h1v1h-1zM13 6h1v1h-1zM17 6h1v1h-1zM20 8h1v1h-1zM0 9h1v1h-1zM4 9h1v1h-1zM11 9h1v1h-1zM15 9h1v1h-1zM9 10h1v1h-1zM18 11h1v1h-1zM4 12h1v1h-1zM21 12h1v1h-1zM1 13h1v1h-1zM13 13h1v1h-1zM7 15h1v1h-1zM10 15h1v1h-1zM15 15h1v1h-1zM18 15h1v1h-1zM22 16h1v1h-1zM4 17h1v1h-1zM1 18h1v1h-1zM13 18h1v1h-1zM6 19h1v1h-1zM10 19h1v1h-1zM20 19h1v1h-1zM17 20h1v1h-1zM2 22h1v1h-1zM10 22h1v1h-1zM23 22h1v1h-1zM6 23h1v1h-1zM15 23h1v1h-1z"/></pattern></defs><rect width="1102" height="1391" fill="#fff"/><g id="leaders" fill="none" stroke="#000" stroke-width="1.3" stroke-linejoin="round"><polyline points="583,113 1029,109"/><polyline points="582.4,211.5 667.4,170.5 1026,168.2"/><polyline points="600,256.3 663,226 1029,222.7"/><polyline points="688,262.3 1027,258.5"/><polyline points="635,301.4 1029,298.4"/><polyline points="563.4,341.6 1031,338.1"/><polyline points="610.3,437.1 1030,433.2"/><polyline points="594,634.8 1032,631.3"/><polyline points="569.7,803.8 627.6,814.6 1032,812.4"/><polyline points="570.7,826 627.6,814.6"/><polyline points="715.1,843.6 776,861 1032.5,859"/><polyline points="712.2,861.6 776,897.5 1033.5,895.7"/><polyline points="669.3,866.6 750.7,944.2 1034.5,942"/><polyline points="671.3,998.5 1033,996.3"/><polyline points="668,1108.6 1033.5,1106.4"/><polyline points="651.5,1323 1034,1321.5"/><polyline points="77,1156.8 408.6,1154.3"/><polyline points="77.5,1236 439.4,1233"/><polyline points="78,1325.8 480,1323"/></g><g id="p17">
<rect x="571.3" y="45" width="4.6" height="14" fill="url(#d70)" stroke="#000" stroke-width="1"/>
<rect x="568.3" y="58.5" width="9.6" height="7" fill="#fff" stroke="#000" stroke-width="1.4"/>
<rect x="570.6" y="65" width="5.8" height="127" fill="#fff" stroke="#000" stroke-width="1.2"/>
<line x1="571.3" y1="65" x2="571.3" y2="192" stroke="#000" stroke-width="2.2"/>
<rect x="571" y="168" width="5" height="24" fill="url(#d60)"/>
<line x1="576.2" y1="155" x2="576.2" y2="192" stroke="#000" stroke-width="1.4"/>
</g><path id="p18" d="M578.6,217.8 A5.2,4.5 0 1 0 579.4,222.4" fill="none" stroke="#000" stroke-width="1.3"/><g id="p16"><polyline points="652.3,276.4 651.4,268.6 655.7,275.9 654.9,268.1 659.2,275.4 658.3,267.7 662.6,275.0 661.8,267.2 666.1,274.5 665.2,266.8 669.5,274.1 668.7,266.3 673.0,273.6 672.1,265.8 676.4,273.1 675.6,265.4 679.9,272.7 679.0,264.9 683.3,272.2 682.5,264.5 686.8,271.8" fill="none" stroke="#000" stroke-width="1.6" stroke-linejoin="round"/><polyline points="423.2,315.8 422.6,308.8 426.9,315.3 426.3,308.3 430.5,314.8 429.9,307.9 434.2,314.4 433.6,307.4 437.9,313.9 437.2,306.9 441.5,313.4 440.9,306.4 445.2,313.0 444.6,306.0 448.8,312.5 448.2,305.5 452.5,312.0 451.9,305.0 456.2,311.5 455.5,304.6 459.8,311.1" fill="none" stroke="#000" stroke-width="1.6" stroke-linejoin="round"/></g><g id="p14">
<path d="M486.6,309.5 L491,302.4 L497.5,300.2 L501.6,303.6 L500,309 L494.5,315.2 L488.6,314.6z" fill="url(#d70)" stroke="#000" stroke-width="1.3"/>
<path d="M497,303.5 C499,298.6 503,296.4 511.5,295.6" fill="none" stroke="#000" stroke-width="1.7"/>
<path d="M506.4,283 C506,270 520,259.5 536,256.2 C546,253.6 566,253.4 578,256.4 C594,260.6 603,271 602.6,283.4 C602,296 590,306 574,310 C560,313.4 546,313 535,310.4 C518,306 506.8,296 506.4,283z" fill="url(#d45)" stroke="#000" stroke-width="1.8"/>
<path d="M509.5,292 C515,303 533,311 554,311.4 C575,311.6 592,304 598.6,293" fill="none" stroke="#000" stroke-width="1.1"/>
<path d="M533,257.5 C528,261 527,265 530,268 C540,263 570,261 584,266 C590,263 590,259.6 586,257.6" fill="url(#d60)" stroke="#000" stroke-width="1"/>
<path d="M512,276 C518,268 526,264 534,262" fill="none" stroke="#000" stroke-width="1.2"/>
<path d="M517.2,279.6 L535,273.6 L540,293 L524.6,299.6z" fill="url(#d07)" stroke="#000" stroke-width="1.2"/>
<path d="M565.6,270.6 L584.6,266 L590.6,287.4 L571,293z" fill="url(#d07)" stroke="#000" stroke-width="1.2"/>
<path d="M590.6,287.4 L592.6,275 M584.6,266 L588,263.6" stroke="#000" stroke-width="1.8" fill="none"/>
<ellipse cx="554.6" cy="282.6" rx="13" ry="9.4" fill="url(#d15)" stroke="#000" stroke-width="1.5"/>
<ellipse cx="554.8" cy="282.4" rx="9.4" ry="6.2" fill="#fff" stroke="#000" stroke-width="1.9"/>
<ellipse cx="554.8" cy="282.8" rx="4.4" ry="2.2" fill="#000"/>
<path d="M541,291.4 C548,295.4 562,295.6 569,291" fill="none" stroke="#000" stroke-width="1.6"/>
<path d="M549,300.4 L571,297.6 L577.4,300.6 L578,311 L569,316.8 L554,317.6 L550.6,312z" fill="url(#d45)" stroke="#000" stroke-width="1.5"/>
<path d="M552.6,303 V316 M561,300 V317 M571.5,299.6 V314.6" stroke="#000" stroke-width="1.1" fill="none"/>
<path d="M526.6,301.6 L549,298.4" stroke="#000" stroke-width="1.8"/>
<path d="M573.6,296.6 L595,291" stroke="#000" stroke-width="1.6"/>
<path d="M581,299.2 L611.6,301.6" fill="none" stroke="#000" stroke-width="1.5"/>
<path d="M611.6,297.6 L616,296.4 L625.6,297 L627.4,300 L627,306.6 L613.4,308.2 L611.4,305z" fill="url(#d70)" stroke="#000" stroke-width="1.3"/>
</g><g id="p13"><path d="M551.2,344 C552,342 558,341.6 558.8,343.6 C559.4,346 557,349.4 554.6,349.2 C552.6,349 550.8,346.4 551.2,344z" fill="#000"/><path d="M553.6,345.4 l2.6,-0.2 l-1.2,1.8z" fill="#fff"/></g><g id="p12">
<!-- harness -->
<g fill="none" stroke-linecap="round">
 <path d="M454,399 C460,393 466,389 472,387.6 C478,386.2 484,385.8 489.5,385.6" stroke="#000" stroke-width="4.6"/>
 <path d="M455,398.4 C461,393 466,389.4 472,388 C478,386.6 484,386 489,385.8" stroke="url(#d30)" stroke-width="2"/>
 <path d="M490,386.5 L497,389" stroke="#000" stroke-width="2"/>
 <ellipse cx="499.5" cy="389.6" rx="3.6" ry="2.6" stroke="#000" stroke-width="1.3" fill="#fff"/>
 <path d="M454,403 C466,397.5 482,396.5 490,399 C496,401 500,403.5 503,405.5" stroke="#000" stroke-width="4.6"/>
 <path d="M455,402.6 C466,398 482,397 490,399.4 C496,401.2 500,403.6 502.4,405.3" stroke="url(#d30)" stroke-width="2"/>
 <path d="M454,406 C468,404.5 486,405 503,409.5" stroke="#000" stroke-width="4.4"/>
 <path d="M455,406 C468,404.8 486,405.2 502.4,409.5" stroke="url(#d15)" stroke-width="2"/>
 <path d="M454,409.5 C466,411.5 484,412.8 503,413.5" stroke="#000" stroke-width="4.4"/>
 <path d="M455,409.6 C466,411.5 484,412.6 502.4,413.4" stroke="url(#d30)" stroke-width="2"/>
 <path d="M366.5,424.2 C375,420.5 381,418 388,415.2 C396,412 403,409.6 410,408 C418,406 425,405.2 432,404.8 C440,404.4 447,404.3 454.3,404.3" stroke="#000" stroke-width="18.4" stroke-linecap="butt"/>
 <path d="M367.6,424.2 C375,420.5 381,418 388,415.2 C396,412 403,409.6 410,408 C418,406 425,405.2 432,404.8 C440,404.4 447,404.3 453.2,404.3" stroke="url(#d45)" stroke-width="15.2" stroke-linecap="butt"/>
 <path d="M369,427 C385,420 398,414.6 411,411 C425,407.4 440,407 452,407" stroke="#000" stroke-width="1.3"/>
 <path d="M369,421 C385,414 398,408.6 411,405 C425,401.8 440,401.4 452,401.6" stroke="#fff" stroke-width="1.6"/>
 <path d="M371,431 C387,424 400,419 412,415.8 C426,412.4 440,412 452,412" stroke="#000" stroke-width="2.2"/>
 <!-- boots -->
 <path d="M349,428.5 L367,418.5" stroke="#000" stroke-width="6.4" stroke-linecap="butt"/>
 <path d="M349,428.5 L367,418.5" stroke="url(#d30)" stroke-width="3.6" stroke-linecap="butt"/>
 <path d="M323.5,441 L350,428" stroke="#000" stroke-width="11.6" stroke-linecap="butt"/>
 <path d="M324.6,440.5 L349,428.5" stroke="url(#d30)" stroke-width="8.6" stroke-linecap="butt"/>
 <path d="M324,449.4 C340,445 355,439 369,431" stroke="#000" stroke-width="8.4" stroke-linecap="butt"/>
 <path d="M325,449.2 C340,445 355,439 368,431.6" stroke="url(#d45)" stroke-width="5.6" stroke-linecap="butt"/>
 <!-- twin lead -->
 <path d="M234,446 C255,445.4 285,445.6 306,444.6" stroke="#000" stroke-width="3.2" stroke-linecap="butt"/>
 <path d="M234,449.6 C255,449 275,449 296,450.6" stroke="#000" stroke-width="2.6" stroke-linecap="butt"/>
 <path d="M236,447.8 C255,447.2 275,447.3 300,447.6" stroke="#fff" stroke-width="0.9" stroke-linecap="butt"/>
 <path d="M287.5,460.6 L304.5,452.4" stroke="#000" stroke-width="7.4" stroke-linecap="butt"/>
 <path d="M288.4,460.2 L303.6,452.8" stroke="url(#d45)" stroke-width="4.6" stroke-linecap="butt"/>
 <path d="M274.5,455.4 L286,457.4" stroke="#000" stroke-width="1.4"/>
</g>
<path d="M203,444.4 C210,442.6 226,442.4 234.4,443 L234.4,452.6 C226,453.4 210,454.6 203,455.2z" fill="url(#d70)" stroke="#000" stroke-width="1.2"/>
<path d="M215,443 v11 M224,443 v10.4" stroke="#fff" stroke-width="0.8"/>
<ellipse cx="194.6" cy="450.5" rx="6.6" ry="4.6" fill="#fff" stroke="#000" stroke-width="2.1"/>
<path d="M200,448 L204,446 M200,453 L204,454.6" stroke="#000" stroke-width="1.4"/>
<ellipse cx="313.6" cy="448.6" rx="8.4" ry="6.6" fill="url(#d07)" stroke="#000" stroke-width="1.7" transform="rotate(-20 313.6 448.6)"/>
<circle cx="313.4" cy="449" r="2.7" fill="url(#d60)" stroke="#000" stroke-width="1.3"/>
<!-- can -->
<path d="M505.4,505 L505.4,396 C505.8,388 509,383 514.6,379.1 C521,374 533,369.6 546,368.3 C555,367.6 565,368 573.4,369.8 C581,371.6 587,375 590.8,378.5 C595.6,383 598.4,388 599,392.7 L604.6,505 A50,26 0 0 1 505.4,505 Z" fill="url(#d60)" stroke="#000" stroke-width="1.6"/>
<rect x="501.5" y="396" width="4.5" height="24" fill="url(#d70)" stroke="#000" stroke-width="1"/>
<path d="M597.8,394 L603.4,500" stroke="#000" stroke-width="2.4" fill="none"/>
<ellipse cx="554.9" cy="505.6" rx="49.4" ry="26" fill="url(#d07)" stroke="#000" stroke-width="1.7"/>
<path d="M554.9,531.6 A49.4,26 0 0 0 604.3,505.6 L597,505.4 A42,19.5 0 0 1 554.9,524.8z" fill="url(#d15)"/>
<ellipse cx="554.8" cy="505.3" rx="42" ry="19.4" fill="url(#d15)" stroke="#000" stroke-width="1.5"/>
<path d="M528.5,491 C540,488 568,488.4 579,492.6 C578,499 568,505.4 554,505.8 C542,506 533,500 528.5,491z" fill="url(#d45)" stroke="#000" stroke-width="1.3"/>
<path d="M534,491.6 C545,490 566,490.4 575,493" fill="none" stroke="#fff" stroke-width="1"/>
<path d="M515,498 C517,494.6 521,493 524.6,493.2 L529.6,509.4 C527,511.6 523,512.4 520.4,511.6 C516,508 514,502 515,498z" fill="url(#d60)" stroke="#000" stroke-width="1.2"/>
<path d="M520,495 l5,15 M523.4,494 l4.4,14.6" stroke="#fff" stroke-width="0.9"/>
<path d="M571,509 L583,497.6 C586,498 588,500 587.6,502.6 L578.6,516 C575,516.4 571.6,513 571,509z" fill="url(#d60)" stroke="#000" stroke-width="1.1"/>
<path d="M573,510.6 l11,-11 M575,513 l11,-11.6 M577.6,515 l9,-10.6" stroke="#fff" stroke-width="0.9"/>
<path d="M590,501.6 h6 l-1,6 l-3.6,1.4z" fill="url(#d30)" stroke="#000" stroke-width="0.9"/>
<path d="M526,515 C530,519 536,521.6 541,522.6" fill="none" stroke="#000" stroke-width="1.2"/>
<ellipse cx="563.8" cy="432" rx="9.8" ry="8.4" fill="url(#d70)" stroke="none"/>
<path d="M553.8,433 A10,8.6 0 0 1 573.8,433" fill="none" stroke="#fff" stroke-width="2"/>
<path d="M553.8,433 A10,8.6 0 0 0 573.8,433" fill="none" stroke="#000" stroke-width="1.2"/>
<ellipse cx="564" cy="433.2" rx="7.6" ry="6.2" fill="none" stroke="#fff" stroke-width="1.1"/>
<path d="M562.4,426 L566,440" stroke="#000" stroke-width="3.4"/>
<path d="M563.6,426.6 L566.4,439.4" stroke="#fff" stroke-width="1.2"/>
</g><g id="p11">
<rect x="550.6" y="561.5" width="9.4" height="9" rx="1.5" fill="url(#d70)" stroke="#000" stroke-width="1.3"/>
<path d="M541.4,592 L541.4,575.4 C541.4,573 546,570 548,570 L564,570 C566,570 570.6,573 570.6,575.4 L570.6,592 L572.6,593 L572.6,596.4 L538.4,596.4 L538.4,593z" fill="url(#d60)" stroke="#000" stroke-width="1.5"/>
<path d="M539,592.4 h33" stroke="#000" stroke-width="1.2"/>
<path d="M536,597 L573,597 C578,599 583.9,603 583.9,607 L583.9,664 C583.9,672 575,681 563.5,685 L547,685 C536,681 527.1,672 527.1,664 L527.1,607 C527.1,603 531,599 536,597z" fill="url(#d60)" stroke="#000" stroke-width="1.7"/>
<rect x="539.4" y="600" width="12" height="56.5" fill="url(#d45)"/>
<rect x="556" y="600" width="12.6" height="56.5" fill="url(#d45)"/>
<path d="M536.8,598 V660 M570.8,598 V660" stroke="#000" stroke-width="2" fill="none"/>
<path d="M553.6,598 V660" stroke="#000" stroke-width="2.6" fill="none"/>
<path d="M530,606 V668 M581.6,606 V668 M534,610 V640" stroke="#000" stroke-width="1.6" fill="none"/>
<path d="M528.4,662 C540,658 548,657 554,657 C560,657 570,658 583,662" stroke="#000" stroke-width="1.3" fill="none"/>
<path d="M528.6,664 L583,664 C583,672 575,680.4 563.5,684 L547,684 C536,680.4 528.6,672 528.6,664z" fill="url(#d70)"/>
<path d="M554,659 L548.6,683 M554,659 L560.6,683 M538,668 l7,5 M568,667 l-6,6 M545,662 l3,10" stroke="#fff" stroke-width="0.9" fill="none"/>
<rect x="548" y="686" width="14.6" height="6.4" fill="#fff" stroke="#000" stroke-width="1.5"/>
<rect x="551.8" y="692" width="8.6" height="82.4" fill="#fff" stroke="#000" stroke-width="1.5"/>
<path d="M552.8,692 V774.4" stroke="#000" stroke-width="2.8"/>
<path d="M556.7,694 V772" stroke="#000" stroke-width="0.8"/>
<rect x="553.8" y="774.4" width="5.8" height="6.2" fill="#fff" stroke="#000" stroke-width="1.6"/>
</g><g id="p10" fill="none" stroke="#000">
<ellipse cx="557" cy="805.4" rx="7.2" ry="4.7" stroke-width="1.5"/>
<ellipse cx="556.6" cy="830.2" rx="8.4" ry="5.6" stroke-width="1.7"/>
<ellipse cx="556.6" cy="830.2" rx="5.8" ry="3.4" stroke-width="0.9"/>
</g>
<g id="p7"><path d="M653.4,853 C654,850 659,848.8 663,848.8 C667.4,848.8 671,850.6 671,853.4 C671,856 668,859 665.8,861.4 L659.6,862.2 C656.6,860 653,856.6 653.4,853z" fill="url(#d70)" stroke="#000" stroke-width="1.5"/><path d="M655,853.6 C658,851.6 666,851.6 669.4,853.8" fill="none" stroke="#000" stroke-width="1.6"/><path d="M662,856.4 h3 v2 h-3z M658,855 l1.4,1.6" fill="#fff" stroke="#fff" stroke-width="0.6"/></g>
<g id="p8"><path d="M693.4,841 C693.6,838 699,836.2 702,836.2 C706,836.2 709.8,838 709.6,840.8 C709.4,843.4 706.6,846.4 704.6,848.6 L699.4,849.2 C696.6,847 693.2,844 693.4,841z" fill="url(#d45)" stroke="#000" stroke-width="1.5"/><path d="M696,842 C696.6,839.6 706,839 707.6,841.6 C706,844.4 698,845 696,842z" fill="url(#d30)" stroke="#000" stroke-width="1.1"/></g>
<g id="p9"><ellipse cx="702.4" cy="857.9" rx="6.8" ry="3.6" fill="#fff" stroke="#000" stroke-width="1.5"/></g><g id="p6">
<path d="M508,1032 L508.5,1043 C509,1048 512,1050 517,1050 L560,1050 C565,1050 568,1047 568.2,1042 L568.4,1032z" fill="url(#d30)" stroke="#000" stroke-width="1.7"/>
<path d="M512,1037.6 h22 l-3,7.6 h-15z M541,1037.6 h23 l-2,7.6 h-16z" fill="url(#d15)" stroke="#000" stroke-width="1.4"/>
<path d="M463,954 L667,954.6 L667,976 L663.5,999 L652,1028 L644,1034.6 L503,1035 L465.5,1033 L459.3,1026 L458,990 L462.5,976z" fill="url(#d15)" stroke="#000" stroke-width="1.8"/>
<path d="M470.5,885 C470.5,874 473,868.6 482,868.4 L602,867.3 L607.6,861.5 L607.8,850.4 L626,850.4 L627.3,866 L628.3,883 L644,883 C650,883 652.5,886 653.2,892 L657.8,937.5 L664.6,942 L667,954.6 L463,954 L463.8,944.5 L468.4,939.8z" fill="url(#d60)" stroke="#000" stroke-width="1.8"/>
<path d="M608,851 h18 v12 h-18z" fill="url(#d70)"/>
<path d="M463.4,951 L666.4,951.6 L666.8,954.6 L463,954z" fill="#000"/>
<!-- inner cavity -->
<path d="M477.1,960.9 L655.6,960.9 L658.7,981.7 L653.5,1002.6 L644.1,1029.7 L468.8,1028.7 L467.7,1008.9 L475,1006.8 L476.1,989 L470.9,988 L470.9,965z" fill="#fff" stroke="#000" stroke-width="1.4" stroke-linejoin="round"/>
<path d="M477.6,962 L512.6,962 L512.6,1028 L469.6,1028 L468.6,1009.6 L475.8,1007.4 L476.9,988.4 L471.8,987.4 L471.8,965.6z" fill="url(#d30)"/>
<path d="M513,962 L548,962 L548,1000 L513,1012z" fill="url(#d22)"/>
<path d="M513,1012 L548,1000 L548,1028 L513,1028z" fill="url(#d07)"/>
<path d="M549,962 L594,962 L594,990 L549,1004z" fill="url(#d15)"/>
<path d="M549,1004 L594,990 L594,1002 L600,1004 L640,1016 L643.4,1028.8 L549,1028z" fill="url(#d07)"/>
<path d="M594,962 L655,962 L657.6,981 L656,986 L606,999 L594,1002z" fill="url(#d15)"/>
<path d="M512.6,961.6 V1028 M548.2,962 V1028" stroke="#000" stroke-width="1.6" fill="none"/>
<path d="M523,962 l2.4,9 M530,962 l1,8 M537,962 l1,9" stroke="#000" stroke-width="1.7"/>
<path d="M594,962 V1001 C595,1005.4 598.4,1004.4 600,1000 L646,987" stroke="#000" stroke-width="1.6" fill="none"/>
<path d="M612,997.4 L649,987.4 L645,1008 L640,1013 L622,1010z" fill="url(#d30)"/>
<path d="M630,993 L647,988.4 L645,997z" fill="url(#d60)"/>
<path d="M462.6,957.4 h204.4" stroke="#000" stroke-width="1"/>
<path d="M459,990 L458.6,1026 M667,976 L664,999 L652.4,1028" stroke="#000" stroke-width="2.4" fill="none"/>
<path d="M466,1033.2 L644,1034.6" stroke="#000" stroke-width="2.6" fill="none"/>
<circle cx="548.6" cy="954.2" r="2.1" fill="#fff" stroke="#000" stroke-width="0.9"/>
<rect x="655" y="994" width="7" height="2.6" fill="#fff" stroke="#000" stroke-width="0.9"/>
<path d="M469,961 h7 M657,960 h6" stroke="#000" stroke-width="1.4"/>
</g><path id="p5" d="M467.1,1099.2 C467.5,1089 472,1083 481.6,1082.9 L656.6,1081.3 C660.5,1081.3 662.5,1083.5 661.8,1087.4 L648.7,1146.6 C647,1153 644,1155.6 638.2,1155.8 L476.3,1157.6 C468.5,1157.6 464.5,1153.5 464.5,1146.6 Z" fill="none" stroke="#000" stroke-width="2.2"/><g id="p3">
<path d="M422.6,1131 C422.6,1122.6 442.6,1122.6 442.6,1131 L442.6,1185 C442.6,1193 422.6,1193 422.6,1185z" fill="url(#d60)" stroke="#000" stroke-width="1.7"/>
<path d="M438,1148 V1180" stroke="#000" stroke-width="2.4"/>
<path d="M424.6,1160 V1182 M435.6,1146 V1180" stroke="#fff" stroke-width="0.9"/>
<ellipse cx="432.6" cy="1186" rx="8.6" ry="4" fill="url(#d60)" stroke="#fff" stroke-width="1.6"/>
<path d="M423.4,1184 A9.2,4.6 0 0 1 441.8,1184" fill="none" stroke="#000" stroke-width="1.2"/>
</g><g id="p2">
<path d="M490.4,1214 L490.4,1203.6 C488,1202.6 487.6,1198 489.6,1196.6 C492,1194.4 502,1194 504.6,1196.4 C506.8,1198 506.4,1202.6 504.4,1203.6 L504.8,1214z" fill="url(#d45)" stroke="#000" stroke-width="1.6"/>
<path d="M490,1199 h14" stroke="#000" stroke-width="1.4"/>
<path d="M507,1214 L508.4,1208.6 C510,1206.8 519,1206.6 520.6,1208.4 L522.4,1214z" fill="url(#d30)" stroke="#000" stroke-width="1.6"/>
<path d="M459.6,1220 C459.6,1216.6 461,1215.4 464,1215.3 L528,1214.4 C533,1214 534.6,1210.4 540,1209.8 C545,1209.2 552,1209.4 555,1210.6 C559,1212 560.4,1214 565,1213.9 L657,1213.4 C660.6,1213.4 661.6,1216 661.4,1220 L660.4,1252 L662.4,1255 L662,1265 L659,1268 L654.5,1293 C654,1297 652,1298.7 648,1298.7 L466,1298 C461,1297.6 458.6,1295 458.5,1291 L458,1268 L454.4,1265 L454.6,1255 L457.6,1252z" fill="url(#d60)" stroke="#000" stroke-width="1.8"/>
<path d="M460.4,1217 L528,1216 C533,1215.6 535,1212.4 540,1211.6 C545,1211 552,1211.2 555,1212.4 C559,1213.6 560.4,1215.6 565,1215.5 L660.6,1215" stroke="#000" stroke-width="3.4" fill="none"/>
<path d="M462,1220 L537,1219.2 C541,1219.2 541,1216.4 544.4,1216.2" stroke="#fff" stroke-width="1" fill="none"/>
<g fill="#fff" stroke="#000" stroke-width="1">
<ellipse cx="465.4" cy="1224.6" rx="4" ry="2.5"/><ellipse cx="544.2" cy="1219.6" rx="4.2" ry="2.8"/><ellipse cx="653.2" cy="1222.6" rx="4.6" ry="2.8"/>
<ellipse cx="459.8" cy="1261.7" rx="3" ry="2.6"/><ellipse cx="655.6" cy="1261" rx="3.2" ry="2.6"/>
<ellipse cx="467.4" cy="1294.3" rx="3.6" ry="2"/><ellipse cx="643.6" cy="1294.3" rx="3.6" ry="2"/>
</g>
<path d="M553.2,1267 L607.6,1224.6 M572.8,1275.8 L643.6,1262.3 M536,1264 L560,1276 L560,1270 M548,1280 L548,1290 M560,1276 L548,1280 L536,1274" stroke="#fff" stroke-width="1.6" fill="none"/>
<path d="M492.5,1237 L493.5,1262 M507,1256 l6,-3 l8,1 l-1,5 l-8,3z" stroke="#fff" stroke-width="1.2" fill="none"/>
<path d="M477.1,1281 L481.5,1276 C486,1272 490,1270 494.2,1269.6 C499,1269.4 503,1272 506.9,1272.2 C511,1272 514,1270 518.4,1269.6 L528.5,1268.3 C532,1268.6 534.4,1270.4 534.2,1272.8 C534,1275 533.4,1276.6 532.3,1277.9 L527.9,1282.3 C530,1285 533,1287.6 536.1,1289.3 C540,1291.4 544,1293.4 547.6,1294.4 C551,1295.4 553.6,1296.3 556.5,1296.3 C560,1296 562.6,1294 565.4,1293.1 C568.4,1292.2 571.4,1291.6 574.3,1291.8 L579.3,1294.4 L584,1289.4 L584,1310.8 L576.8,1316 L566.6,1321.7 C564,1322 561.6,1320.6 559,1319.8 C555.4,1318.6 551.4,1317.2 547.6,1317.3 C544.4,1317.4 541.6,1318.8 538.7,1319.2 C535.4,1319.8 531.6,1320.2 528.5,1319.8 C525.4,1319.2 523.4,1317.6 522.2,1316 C520.6,1313.6 520.4,1311 520.9,1308.4 L519.6,1300.1 C518,1299 516.4,1298.6 514.5,1298.2 C512,1297 509.6,1295.6 506.9,1295 C504.4,1294.6 501.6,1295 499.3,1295.7 L494.2,1297.6 L484,1297.6 L477.7,1293.1z" fill="url(#d22)" stroke="#000" stroke-width="1.5" stroke-linejoin="round"/>
<path d="M579.3,1294.4 L584,1289.4 L584,1310.8 L576.8,1316 L578,1312.2 L573,1305.8 L578.7,1299.5z" fill="url(#d70)" stroke="#000" stroke-width="1"/>
<path d="M520.9,1308.4 L524.7,1304.5 L519.6,1300.1z M477.1,1281 l3.4,3.4 l-3,3.4z" fill="#000"/>
<path d="M495.6,1279.6 h6 M519,1274.4 c2,-1.6 5,-1.6 7,0 M485,1291.6 h7 M501,1295.4 c2,-1.4 5,-1.4 7,0 M517,1291 h5 M539.6,1303 h5.6 M563.6,1296.8 c2,-1.4 5,-1.4 7.4,0 M530,1314.2 h7.4 M562,1312.2 c2,-1.4 6,-1.4 8,0" stroke="#000" stroke-width="1.4" fill="none"/>
</g><g id="p1" fill="#fff" stroke="#000" stroke-width="1.6">
<ellipse cx="497.7" cy="1324.8" rx="6" ry="3.8"/><ellipse cx="517.7" cy="1331.4" rx="6" ry="3.8"/><ellipse cx="541.3" cy="1337.9" rx="6" ry="3.8"/><ellipse cx="565.2" cy="1339.6" rx="6" ry="3.8"/>
</g>
<g id="p4"><rect x="641.8" y="1321.6" width="5" height="16" fill="url(#d45)" stroke="#000" stroke-width="1.2"/><rect x="640.4" y="1337.4" width="8.2" height="7.8" rx="2" fill="#fff" stroke="#000" stroke-width="1.3"/><path d="M640.6,1341 h8" stroke="#000" stroke-width="1"/></g><g id="specks" fill="#000"><circle cx="983" cy="160" r="0.7"/><circle cx="752" cy="243" r="0.9"/><circle cx="835" cy="295" r="0.8"/><circle cx="492.6" cy="508" r="0.8"/><circle cx="5" cy="661" r="0.8"/><circle cx="964" cy="1093" r="0.6"/><circle cx="290.6" cy="29.5" r="0.6"/><circle cx="337" cy="134" r="0.5"/><circle cx="350" cy="130" r="0.5"/><circle cx="18" cy="213" r="0.6"/><circle cx="326" cy="586" r="0.6"/><circle cx="715" cy="14" r="0.6"/><circle cx="356" cy="1122" r="0.6"/><circle cx="274" cy="1238" r="0.5"/><circle cx="36" cy="724" r="0.5"/></g><g id="labels" font-family="'Liberation Sans', sans-serif" font-weight="bold" font-size="22.6" text-anchor="middle" opacity="0.995"><circle cx="1047.3" cy="108.2" r="18.3" fill="#fff" stroke="#000" stroke-width="1.7"/><text transform="translate(1047.6,116.3) scale(0.7,1)" stroke="#000" stroke-width="0.55">17</text><circle cx="1044.5" cy="166.9" r="18.3" fill="#fff" stroke="#000" stroke-width="1.7"/><text transform="translate(1044.8,175.0) scale(0.7,1)" stroke="#000" stroke-width="0.55">18</text><circle cx="1047.3" cy="221.4" r="18.3" fill="#fff" stroke="#000" stroke-width="1.7"/><text transform="translate(1047.6,229.5) scale(0.7,1)" stroke="#000" stroke-width="0.55">14</text><circle cx="1045.7" cy="259" r="18.3" fill="#fff" stroke="#000" stroke-width="1.7"/><text transform="translate(1046.0,267.1) scale(0.7,1)" stroke="#000" stroke-width="0.55">16</text><circle cx="1047.4" cy="296.7" r="18.3" fill="#fff" stroke="#000" stroke-width="1.7"/><text transform="translate(1047.7,304.8) scale(0.7,1)" stroke="#000" stroke-width="0.55">15</text><circle cx="1049.2" cy="337.6" r="18.3" fill="#fff" stroke="#000" stroke-width="1.7"/><text transform="translate(1049.5,345.70000000000005) scale(0.7,1)" stroke="#000" stroke-width="0.55">13</text><circle cx="1048.5" cy="431.1" r="18.3" fill="#fff" stroke="#000" stroke-width="1.7"/><text transform="translate(1048.8,439.20000000000005) scale(0.7,1)" stroke="#000" stroke-width="0.55">12</text><circle cx="1050.8" cy="631" r="18.3" fill="#fff" stroke="#000" stroke-width="1.7"/><text transform="translate(1051.1,639.1) scale(0.7,1)" stroke="#000" stroke-width="0.55">11</text><circle cx="1050.6" cy="810.7" r="18.3" fill="#fff" stroke="#000" stroke-width="1.7"/><text transform="translate(1050.8999999999999,818.8000000000001) scale(0.7,1)" stroke="#000" stroke-width="0.55">10</text><circle cx="1051" cy="859" r="18.3" fill="#fff" stroke="#000" stroke-width="1.7"/><text transform="translate(1051.3,867.1) scale(0.7,1)" stroke="#000" stroke-width="0.55">8</text><circle cx="1051.9" cy="897.6" r="18.3" fill="#fff" stroke="#000" stroke-width="1.7"/><text transform="translate(1052.2,905.7) scale(0.7,1)" stroke="#000" stroke-width="0.55">9</text><circle cx="1053.2" cy="940.9" r="18.3" fill="#fff" stroke="#000" stroke-width="1.7"/><text transform="translate(1053.5,949.0) scale(0.7,1)" stroke="#000" stroke-width="0.55">7</text><circle cx="1051.4" cy="996.5" r="18.3" fill="#fff" stroke="#000" stroke-width="1.7"/><text transform="translate(1051.7,1004.6) scale(0.7,1)" stroke="#000" stroke-width="0.55">6</text><circle cx="1052" cy="1106.3" r="18.3" fill="#fff" stroke="#000" stroke-width="1.7"/><text transform="translate(1052.3,1114.3999999999999) scale(0.7,1)" stroke="#000" stroke-width="0.55">5</text><circle cx="1052.5" cy="1320.5" r="18.3" fill="#fff" stroke="#000" stroke-width="1.7"/><text transform="translate(1052.8,1328.6) scale(0.7,1)" stroke="#000" stroke-width="0.55">4</text><circle cx="58" cy="1157.3" r="18.3" fill="#fff" stroke="#000" stroke-width="1.7"/><text transform="translate(58.3,1165.3999999999999) scale(0.7,1)" stroke="#000" stroke-width="0.55">3</text><circle cx="58.6" cy="1236.6" r="18.3" fill="#fff" stroke="#000" stroke-width="1.7"/><text transform="translate(58.9,1244.6999999999998) scale(0.7,1)" stroke="#000" stroke-width="0.55">2</text><circle cx="59" cy="1326.3" r="18.3" fill="#fff" stroke="#000" stroke-width="1.7"/><text transform="translate(59.3,1334.3999999999999) scale(0.7,1)" stroke="#000" stroke-width="0.55">1</text></g></svg></body></html>
